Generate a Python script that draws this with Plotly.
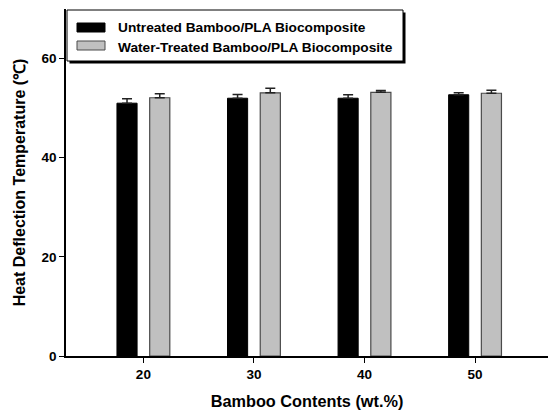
import plotly.graph_objects as go

# Heat deflection temperature of bamboo/PLA biocomposites
contents = [20, 30, 40, 50]
untreated = [51.0, 52.0, 52.0, 52.7]
untreated_err = [0.9, 0.75, 0.7, 0.4]
treated = [52.1, 53.1, 53.2, 53.0]
treated_err = [0.8, 0.9, 0.35, 0.6]
series_names = ["Untreated Bamboo/PLA Biocomposite", "Water-Treated Bamboo/PLA Biocomposite"]
x_ticks = [20, 30, 40, 50]
y_ticks = [0, 20, 40, 60]

W, H = 548, 417
M_L, M_R, M_T, M_B = 66, 0, 9, 61
PW, PH = W - M_L - M_R, H - M_T - M_B

FONT = "Arial, Liberation Sans, sans-serif"
BAR_W = 1.82

fig = go.Figure()
fig.add_trace(go.Bar(
    x=contents, y=untreated, name=series_names[0],
    width=BAR_W, offset=-0.57 - BAR_W,
    marker=dict(color="black", line=dict(color="black", width=1)),
    error_y=dict(type="data", symmetric=False, array=untreated_err,
                 arrayminus=[0] * len(untreated_err),
                 color="#222222", thickness=1.5, width=5),
    showlegend=False,
))
fig.add_trace(go.Bar(
    x=contents, y=treated, name=series_names[1],
    width=BAR_W, offset=0.57,
    marker=dict(color="#c0c0c0", line=dict(color="#4a4a4a", width=1.2)),
    error_y=dict(type="data", symmetric=False, array=treated_err,
                 arrayminus=[0] * len(treated_err),
                 color="#222222", thickness=1.5, width=5),
    showlegend=False,
))


def px_x(p):
    return (p - M_L) / PW


def px_y(p):
    return (H - M_B - p) / PH


# Legend box with a drop shadow, drawn in the top-left corner of the plot
shapes = [
    dict(type="rect", xref="paper", yref="paper",
         x0=px_x(69.5), x1=px_x(405.5), y0=px_y(63.5), y1=px_y(12.5),
         fillcolor="black", line=dict(width=0), layer="above"),
    dict(type="rect", xref="paper", yref="paper",
         x0=px_x(67), x1=px_x(403), y0=px_y(61), y1=px_y(10),
         fillcolor="white", line=dict(color="black", width=1), layer="above"),
    dict(type="rect", xref="paper", yref="paper",
         x0=px_x(77), x1=px_x(105), y0=px_y(32), y1=px_y(23),
         fillcolor="black", line=dict(color="black", width=1), layer="above"),
    dict(type="rect", xref="paper", yref="paper",
         x0=px_x(77), x1=px_x(105), y0=px_y(50), y1=px_y(41),
         fillcolor="#c0c0c0", line=dict(color="#4a4a4a", width=1), layer="above"),
]
annotations = [
    dict(text=series_names[0], xref="paper", yref="paper",
         x=px_x(116), y=px_y(28), xanchor="left", yanchor="middle",
         showarrow=False, font=dict(family=FONT, size=13.7, color="black", weight="bold")),
    dict(text=series_names[1], xref="paper", yref="paper",
         x=px_x(116), y=px_y(47), xanchor="left", yanchor="middle",
         showarrow=False, font=dict(family=FONT, size=13.7, color="black", weight="bold")),
]

fig.update_layout(
    width=W, height=H,
    margin=dict(l=M_L, r=M_R, t=M_T, b=M_B, pad=0),
    paper_bgcolor="white", plot_bgcolor="white",
    barmode="overlay",
    shapes=shapes, annotations=annotations,
    font=dict(family=FONT, color="black"),
    xaxis=dict(
        range=[13.0, 56.6], tickvals=x_ticks, ticktext=[str(v) for v in x_ticks],
        showgrid=False, zeroline=False,
        showline=True, linecolor="black", linewidth=2,
        ticks="outside", ticklen=5, tickwidth=1, tickcolor="black",
        tickfont=dict(family=FONT, size=13.5, weight="bold"),
        title=dict(text="Bamboo Contents (wt.%)", standoff=14,
                   font=dict(family=FONT, size=16.3, weight="bold")),
    ),
    yaxis=dict(
        range=[0, 70], tickvals=y_ticks, ticktext=[str(v) for v in y_ticks],
        showgrid=False, zeroline=False,
        showline=True, linecolor="black", linewidth=1.5,
        ticks="outside", ticklen=5, tickwidth=1, tickcolor="black",
        tickfont=dict(family=FONT, size=13.5, weight="bold"),
        title=dict(text="Heat Deflection Temperature (℃)", standoff=12,
                   font=dict(family=FONT, size=16, weight="bold")),
    ),
)

fig.write_html("out.html")
